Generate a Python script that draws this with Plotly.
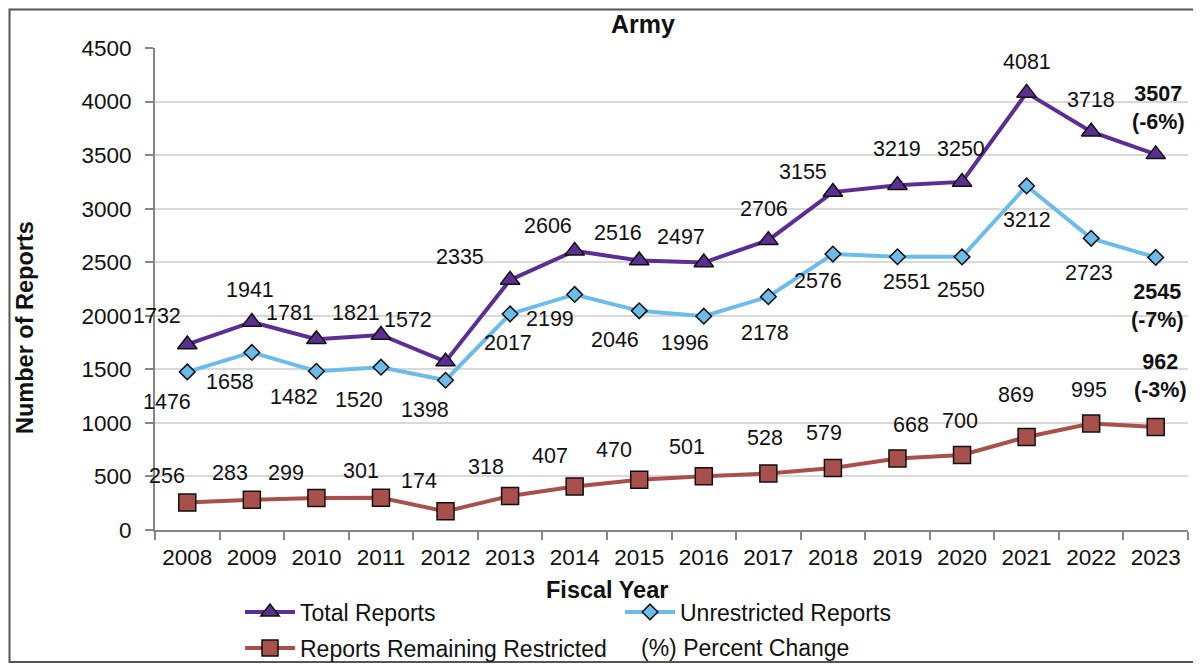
import plotly.graph_objects as go

# ---- data ----
years = ["2008", "2009", "2010", "2011", "2012", "2013", "2014", "2015",
         "2016", "2017", "2018", "2019", "2020", "2021", "2022", "2023"]
total_reports = [1732, 1941, 1781, 1821, 1572, 2335, 2606, 2516,
                 2497, 2706, 3155, 3219, 3250, 4081, 3718, 3507]
unrestricted_reports = [1476, 1658, 1482, 1520, 1398, 2017, 2199, 2046,
                        1996, 2178, 2576, 2551, 2550, 3212, 2723, 2545]
restricted_reports = [256, 283, 299, 301, 174, 318, 407, 470,
                      501, 528, 579, 668, 700, 869, 995, 962]
pct_change_total = "-6%"
pct_change_unrestricted = "-7%"
pct_change_restricted = "-3%"
y_ticks = [0, 500, 1000, 1500, 2000, 2500, 3000, 3500, 4000, 4500]

# ---- label offsets in pixels (dx right, dy down) ----
total_dx = [-30, -2, -26, -25, -38, -50, -27, -21, -23, -4, -30, 0, -1, 0, 0, 3]
total_dy = [-28, -32, -26, -22, -42, -23, -25, -28, -26, -31, -20, -36, -33, -31, -32, -46]
unres_dx = [-20, -22, -22, -22, -21, -2, -25, -24, -19, -3, -15, 10, -1, 0, -2, 2]
unres_dy = [30, 30, 26, 33, 30, 29, 25, 29, 27, 36, 27, 25, 33, 34, 35, 49]
restr_dx = [-20, -22, -30, -20, -27, -24, -25, -25, -17, -3, -9, 14, -2, -11, -2, 5]
restr_dy = [-27, -27, -25, -27, -30, -29, -30, -30, -29, -35, -35, -33, -34, -42, -33, -51]

PURPLE = "#5B2E91"
BLUE = "#6DBBE8"
RED = "#A8504C"
FONT = "Liberation Sans, Arial, sans-serif"
TXT = "#111111"

# page offset (browser body margin) and target plot area in screenshot pixels
OFF = 8
L, R, T, B = 155 - OFF, 1188 - OFF, 48 - OFF, 530 - OFF
W, H = R - L, B - T
def px(xs):
    return (xs - OFF - L) / W
def py(ys):
    return (B - (ys - OFF)) / H

fig = go.Figure()
fig.add_trace(go.Scatter(
    x=years, y=total_reports, name="Total Reports", mode="lines+markers",
    line=dict(color=PURPLE, width=4), legend="legend",
    marker=dict(symbol="triangle-up", size=17, color=PURPLE,
                line=dict(color=TXT, width=1.5))))
fig.add_trace(go.Scatter(
    x=years, y=unrestricted_reports, name="Unrestricted Reports", mode="lines+markers",
    line=dict(color=BLUE, width=4), legend="legend",
    marker=dict(symbol="diamond", size=12, color=BLUE,
                line=dict(color=TXT, width=1.5))))
fig.add_trace(go.Scatter(
    x=years, y=restricted_reports, name="Reports Remaining Restricted", mode="lines+markers",
    line=dict(color=RED, width=4), legend="legend2",
    marker=dict(symbol="square", size=17, color=RED,
                line=dict(color=TXT, width=1.5))))

annotations = []
n = len(years)
for series, dxs, dys, pct in [(total_reports, total_dx, total_dy, pct_change_total),
                              (unrestricted_reports, unres_dx, unres_dy, pct_change_unrestricted),
                              (restricted_reports, restr_dx, restr_dy, pct_change_restricted)]:
    for i, v in enumerate(series):
        if i == n - 1:
            txt = f"<b>{v}<br>({pct})</b>"
        else:
            txt = str(v)
        annotations.append(dict(
            x=i, y=v, xref="x", yref="y", text=txt, showarrow=False,
            xshift=dxs[i], yshift=-dys[i], xanchor="center", yanchor="middle",
            font=dict(family=FONT, size=21.5, color=TXT)))

annotations.append(dict(x=px(643), y=py(24), xref="paper", yref="paper", text="<b>Army</b>",
                        showarrow=False, xanchor="center", yanchor="middle",
                        font=dict(family=FONT, size=25, color=TXT)))
annotations.append(dict(x=px(607), y=py(590), xref="paper", yref="paper", text="<b>Fiscal Year</b>",
                        showarrow=False, xanchor="center", yanchor="middle",
                        font=dict(family=FONT, size=23.5, color=TXT)))
annotations.append(dict(x=px(25), y=py(328), xref="paper", yref="paper", text="<b>Number of Reports</b>",
                        showarrow=False, xanchor="center", yanchor="middle", textangle=-90,
                        font=dict(family=FONT, size=23.5, color=TXT)))
annotations.append(dict(x=px(639), y=py(648), xref="paper", yref="paper", text="(%) Percent Change",
                        showarrow=False, xanchor="left", yanchor="middle",
                        font=dict(family=FONT, size=23, color=TXT)))

legend_common = dict(orientation="h", xanchor="left", yanchor="middle",
                     entrywidth=315, entrywidthmode="pixels", traceorder="normal",
                     font=dict(family=FONT, size=23, color=TXT),
                     bgcolor="rgba(0,0,0,0)", itemwidth=50)

fig.update_layout(
    width=1201, height=665,
    margin=dict(l=L, r=1201 - R, t=T, b=665 - B, autoexpand=False),
    paper_bgcolor="white", plot_bgcolor="white",
    font=dict(family=FONT, size=21, color=TXT),
    showlegend=True,
    legend=dict(x=px(240), y=py(612), **legend_common),
    legend2=dict(x=px(240), y=py(648), **legend_common),
    annotations=annotations,
    shapes=[dict(type="rect", xref="paper", yref="paper",
                 x0=px(OFF + 1.5), x1=px(1197), y0=py(662), y1=py(OFF + 1.5),
                 line=dict(color="#555555", width=2), fillcolor="rgba(0,0,0,0)", layer="below")],
)
fig.update_xaxes(type="category", range=[-0.5, len(years) - 0.5],
                 tickson="boundaries", ticks="outside", ticklen=8,
                 tickcolor="#868686", tickwidth=2, showline=True, linecolor="#868686", linewidth=2,
                 showgrid=False, tickangle=0, tickfont=dict(family=FONT, size=22.5, color=TXT),
                 ticklabelstandoff=6)
fig.update_yaxes(range=[0, 4500], tickvals=y_ticks, ticks="outside", ticklen=8,
                 tickcolor="#868686", tickwidth=2, showline=True, linecolor="#868686", linewidth=2,
                 showgrid=True, gridcolor="#D9D9D9", gridwidth=2, zeroline=False,
                 tickfont=dict(family=FONT, size=22.5, color=TXT), ticklabelstandoff=9)

fig.write_html("out.html")
